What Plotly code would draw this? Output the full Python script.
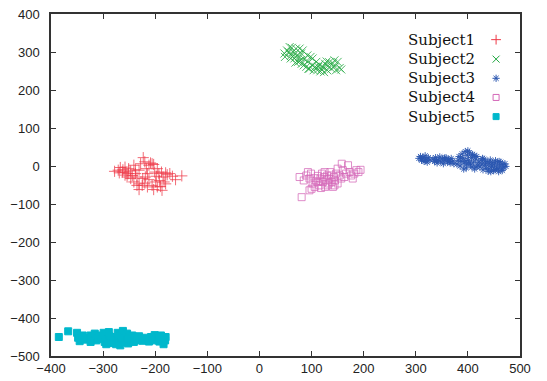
import plotly.graph_objects as go

# ---------------- data ----------------
names = ["Subject1", "Subject2", "Subject3", "Subject4", "Subject5"]

s1_x = [-278, -271, -267, -262, -258, -256, -252, -251, -247, -244, -241, -238, -235, -231, -228,
        -223, -220, -217, -215, -212, -209, -206, -203, -201, -198, -196, -193, -192, -188, -185,
        -183, -180, -177, -172, -167, -161, -149, -231, -225, -220, -215, -231, -206, -203, -196,
        -187, -180, -247, -241, -235, -254, -263, -269, -212, -224, -238, -199, -190, -258, -219]
s1_y = [-14, -11, -4, -10, -3, -16, -20, -7, -13, -25, 2, -20, -29, -11, 6,
        22, 11, -7, -20, 2, 8, 6, 4, -16, -27, -7, -20, -38, -16, -29,
        -42, -18, -23, -20, -27, -36, -26, -47, -51, -45, -55, -62, -51, -62, -55,
        -64, -47, -33, -42, -51, -29, -16, -18, -36, -33, -10, -42, -54, -24, -29]

s2_x = [48, 53, 58, 61, 64, 67, 70, 74, 77, 80, 83, 85, 86, 90, 93, 96, 98, 101, 104, 107,
        111, 113, 117, 120, 124, 126, 129, 131, 134, 138, 141, 144, 147, 150, 154, 157,
        56, 62, 72, 79, 69, 60, 66, 77, 81, 92, 102, 109, 115, 122, 130, 144, 49, 94]
s2_y = [296, 304, 313, 291, 300, 283, 309, 274, 287, 296, 304, 265, 281, 261, 275, 256, 287, 265, 252, 261,
        252, 261, 249, 254, 247, 269, 275, 263, 273, 256, 270, 261, 252, 274, 258, 254,
        300, 311, 291, 278, 272, 283, 291, 309, 269, 291, 283, 274, 267, 261, 252, 278, 287, 256]

s3_x = [306, 309, 311, 314, 316, 318, 320, 322, 324, 327, 312, 319,
        333, 336, 338, 341, 343, 346, 348, 351, 353, 356, 358, 361, 363, 366, 368, 371, 373, 340, 355, 365,
        379, 381, 383, 385, 387, 389, 391, 393, 395, 397, 399, 401, 403, 405, 407, 409, 411, 413, 415, 417,
        419, 392, 400, 408, 386, 396, 404, 412, 416, 398,
        421, 423, 425, 427, 429, 431, 433, 435, 437, 439, 441, 443, 445, 447, 449, 451, 453, 455, 457, 459,
        461, 463, 465, 467, 469, 471, 473, 428, 440, 452, 460, 434, 446, 458, 466, 444]
s3_y = [20, 25, 15, 22, 12, 27, 18, 10, 22, 16, 19, 14,
        18, 12, 22, 8, 16, 24, 11, 19, 6, 15, 22, 10, 17, 8, 20, 13, 6, 14, 21, 12,
        5, 15, 25, 0, 12, 32, 20, 8, 38, -5, 28, 15, 35, 3, 22, 30, 10, -8, 18, 25,
        2, -8, 40, -3, 22, 14, 8, 28, -2, 5,
        10, -3, 15, 5, -10, 18, 2, -6, 12, -14, 6, 16, -2, 9, -12, 3, 14, -5, 8, -15,
        0, 10, -8, 4, -3, 6, -1, 20, -8, -10, 12, 8, 0, -8, -12, -15]

s4_x = [77, 81, 85, 90, 93, 96, 99, 100, 102, 106, 109, 112, 115, 117, 120, 122, 124, 126, 128, 130,
        133, 134, 136, 139, 141, 143, 145, 147, 150, 154, 157, 158, 160, 163, 166, 170, 173, 176, 179,
        182, 186, 190, 194, 96, 106, 118, 131, 144, 125, 112, 138, 150]
s4_y = [-29, -82, -38, -25, -16, -33, -20, -60, -46, -32, -40, -26, -51, -33, -20, -42, -29, -55, -38, -25,
        -46, -33, -16, -42, -55, -29, -38, -20, -46, -25, -33, 6, -11, -29, -20, 2, -16, -25, -33,
        -20, -11, -16, -10, -64, -55, -58, -51, -51, -16, -42, -25, -7]

s5_x = [-385, -367, -350, -348, -345, -339, -334, -329, -324, -320, -316, -313, -310, -305, -302,
        -299, -297, -294, -290, -288, -284, -281, -278, -275, -272, -270, -267, -265, -262, -260,
        -257, -254, -252, -249, -247, -244, -241, -238, -235, -231, -228, -224, -220, -215, -212,
        -208, -205, -201, -198, -194, -192, -189, -187, -184, -181, -180, -324, -267, -289, -253]
s5_y = [-450, -435, -439, -452, -461, -446, -457, -452, -446, -450, -441, -459, -452, -446, -455,
        -439, -463, -469, -454, -448, -459, -466, -450, -469, -439, -457, -446, -463, -434, -452,
        -460, -441, -467, -450, -457, -446, -463, -452, -459, -448, -456, -460, -452, -457, -462,
        -450, -455, -445, -459, -450, -462, -446, -455, -469, -459, -450, -463, -472, -437, -454]

xs = [s1_x, s2_x, s3_x, s4_x, s5_x]
ys = [s1_y, s2_y, s3_y, s4_y, s5_y]

# ---------------- styles ----------------
colors = ["#ee3a48", "#1fa83f", "#2a56b0", "#d468b8", "#00b8cc"]
symbols = ["cross-thin-open", "x-thin-open", "asterisk-open", "square-open", "square"]
sizes = [8, 8, 6, 7, 7]
leg_sizes = [7, 7, 6, 6, 6]
opac = [0.75, 0.8, 0.9, 0.75, 1.0]

fig = go.Figure()
for i in range(5):
    fig.add_trace(go.Scatter(
        x=xs[i], y=ys[i], mode="markers", name=names[i], showlegend=False,
        marker=dict(symbol=symbols[i], size=sizes[i], color=colors[i], opacity=opac[i],
                    line=dict(width=1, color=colors[i])),
        hoverinfo="x+y"))

# custom legend (text on the left, symbol on the right, like gnuplot)
leg_y = [0.925, 0.868, 0.812, 0.756, 0.700]
for i in range(5):
    fig.add_trace(go.Scatter(
        x=[0.949], y=[leg_y[i]], xaxis="x2", yaxis="y2", mode="markers", showlegend=False,
        marker=dict(symbol=symbols[i], size=leg_sizes[i], color=colors[i],
                    line=dict(width=1, color=colors[i])),
        hoverinfo="skip"))
    fig.add_annotation(x=0.908, y=leg_y[i], xref="paper", yref="paper", text=names[i],
                       showarrow=False, xanchor="right", yanchor="middle",
                       font=dict(family="DejaVu Serif", size=15, color="#111"))

axis_common = dict(showgrid=False, zeroline=False, showline=True, linecolor="#333", linewidth=1.5,
                   mirror="ticks", ticks="inside", ticklen=5, tickwidth=1, tickcolor="#333",
                   automargin=False,
                   tickfont=dict(family="Liberation Sans", size=13, color="#222"), dtick=100)

fig.update_layout(
    width=547, height=381,
    margin=dict(l=51, r=27, t=14, b=25),
    paper_bgcolor="white", plot_bgcolor="white",
    xaxis=dict(range=[-400, 500], tick0=-400, **axis_common),
    yaxis=dict(range=[-500, 400], tick0=-500, ticklabelstandoff=7, **axis_common),
    xaxis2=dict(range=[0, 1], overlaying="x", visible=False),
    yaxis2=dict(range=[0, 1], overlaying="y", visible=False),
)

fig.write_html("out.html", config={"displayModeBar": False},
               post_script="document.body.style.margin='0';document.body.style.overflow='hidden';")
